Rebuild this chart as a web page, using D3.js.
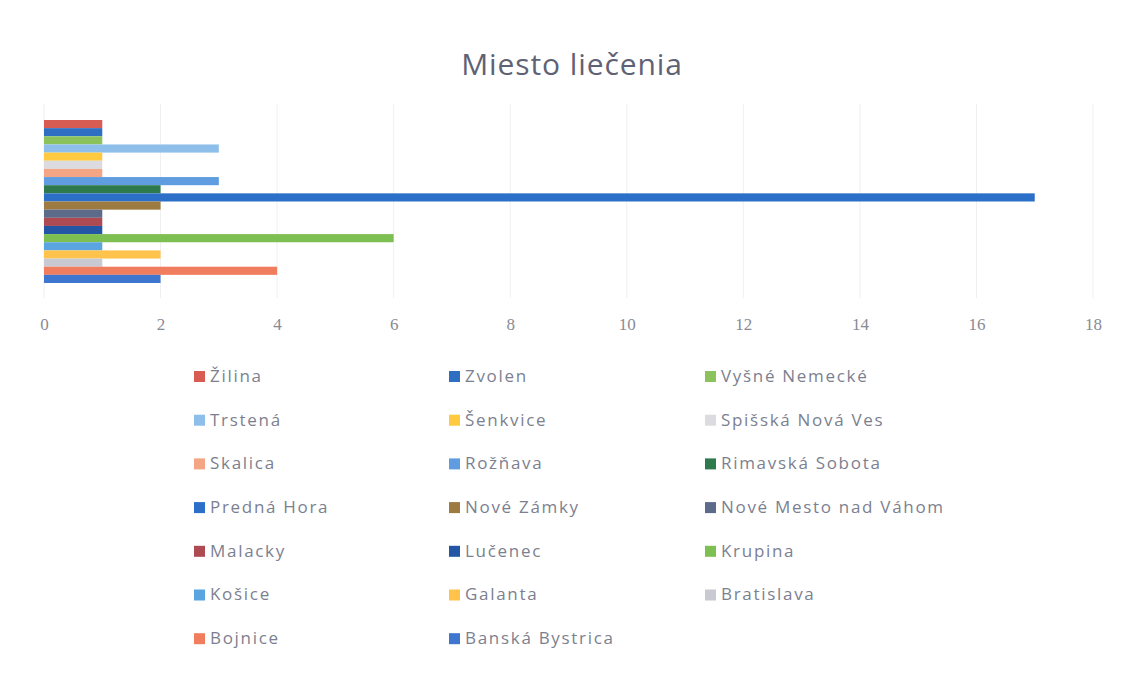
<!DOCTYPE html>
<html>
<head>
<meta charset="utf-8">
<script src="https://cdn.jsdelivr.net/npm/d3@7"></script>
<style>
  body { margin: 0; background: #fff; }
  svg { display: block; }
</style>
</head>
<body>
<svg id="chart" width="1121" height="673"></svg>
<script>
const title = "Miesto liečenia";
const categories = ["Žilina", "Zvolen", "Vyšné Nemecké", "Trstená", "Šenkvice", "Spišská Nová Ves", "Skalica", "Rožňava", "Rimavská Sobota", "Predná Hora", "Nové Zámky", "Nové Mesto nad Váhom", "Malacky", "Lučenec", "Krupina", "Košice", "Galanta", "Bratislava", "Bojnice", "Banská Bystrica"];
const values = [1, 1, 1, 3, 1, 1, 1, 3, 2, 17, 2, 1, 1, 1, 6, 1, 2, 1, 4, 2];
const colors = ["#d85c52", "#2f6fc2", "#8cc25c", "#8ebfeb", "#ffca3f", "#dcdce0", "#f4a584", "#5f9de0", "#2e7a4c", "#2b6fc8", "#9c7a40", "#5c6b8a", "#ae4a52", "#2456a6", "#7dbf50", "#5aa5e0", "#ffc34c", "#c9c9d2", "#f07e5e", "#3f76cf"];
const xTicks = [0, 2, 4, 6, 8, 10, 12, 14, 16, 18];

const svg = d3.select("#chart");

const x = d3.scaleLinear().domain([0, 18]).range([44, 1093]);
const y = d3.scaleBand().domain(categories).range([120, 283]).padding(0);

// gridlines
svg.append("g").selectAll("line").data(xTicks).join("line")
  .attr("x1", d => x(d)).attr("x2", d => x(d))
  .attr("y1", 104).attr("y2", 298)
  .attr("stroke", "#f0f0f0").attr("stroke-width", 1);

// bars
svg.append("g").selectAll("rect").data(categories).join("rect")
  .attr("x", x(0))
  .attr("y", d => y(d))
  .attr("width", (d, i) => x(values[i]) - x(0))
  .attr("height", y.bandwidth())
  .attr("fill", (d, i) => colors[i]);

// axis labels
const axis = d3.axisBottom(x).tickValues(xTicks).tickSize(0).tickPadding(0);
const ag = svg.append("g").attr("transform", "translate(0,318)").call(axis);
ag.select(".domain").remove();
ag.selectAll("text")
  .attr("font-family", "'Liberation Serif', serif")
  .attr("font-size", 17)
  .attr("fill", "#8a8a95");

// title
svg.append("text")
  .attr("x", 572).attr("y", 75)
  .attr("text-anchor", "middle")
  .attr("font-family", "'Open Sans', sans-serif")
  .attr("font-size", 30)
  .attr("letter-spacing", "0.9px")
  .attr("fill", "#5f6275")
  .text(title);

// legend: 3 columns, rows top to bottom
const colX = [194, 449, 705];
const rowY0 = 376, rowStep = 43.7;
const lg = svg.append("g").selectAll("g").data(categories).join("g")
  .attr("transform", (d, i) => `translate(${colX[i % 3]},${rowY0 + Math.floor(i / 3) * rowStep})`);
lg.append("rect")
  .attr("x", 0).attr("y", -5).attr("width", 11).attr("height", 11)
  .attr("fill", (d, i) => colors[i]);
lg.append("text")
  .attr("x", 16).attr("y", 0).attr("dy", "0.35em")
  .attr("font-family", "'Open Sans', sans-serif")
  .attr("font-size", 17)
  .attr("letter-spacing", "1.7px")
  .attr("fill", "#7c7f90")
  .text(d => d);
</script>
</body>
</html>
